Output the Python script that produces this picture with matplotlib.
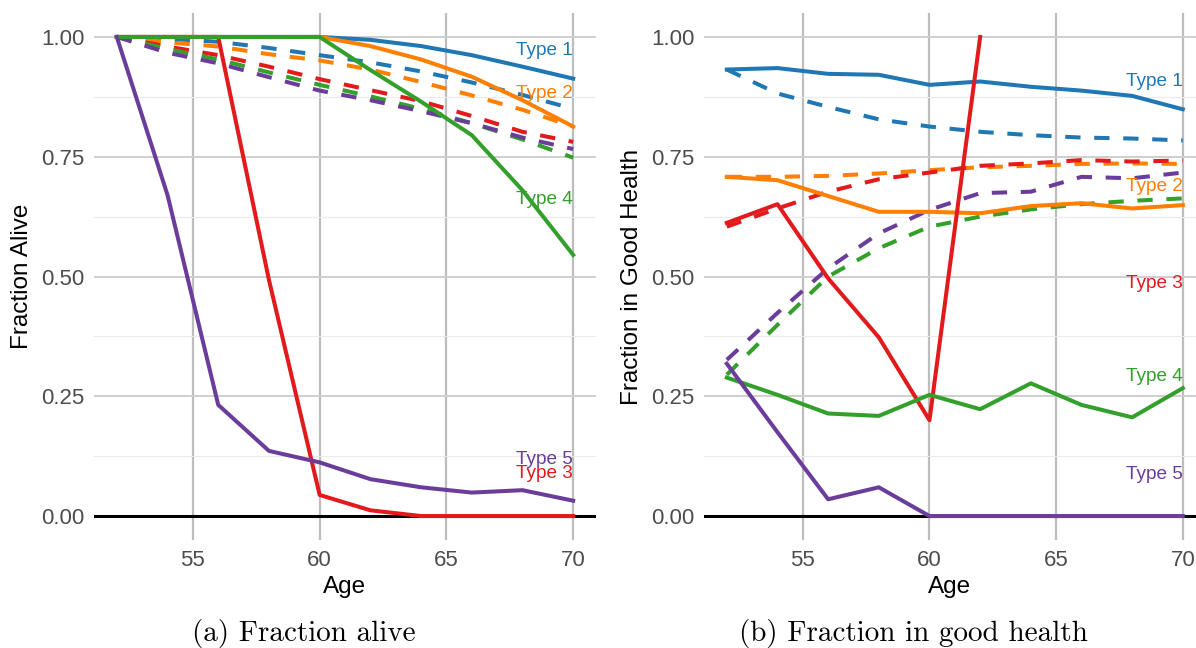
import numpy as np
import matplotlib
matplotlib.use("Agg")
import matplotlib.pyplot as plt
from matplotlib.ticker import MultipleLocator, FixedLocator

ages = [52, 54, 56, 58, 60, 62, 64, 66, 68, 70]
type_names = ["Type 1", "Type 2", "Type 3", "Type 4", "Type 5"]
colors = ["#1f78b4", "#ff7f00", "#e31a1c", "#33a02c", "#6a3d9a"]

# panel (a): fraction alive, solid lines
alive_t1 = [1.0, 1.0, 1.0, 1.0, 1.0, 0.994, 0.981, 0.962, 0.938, 0.913]
alive_t2 = [1.0, 1.0, 1.0, 1.0, 1.0, 0.981, 0.953, 0.917, 0.868, 0.813]
alive_t3 = [1.0, 1.0, 1.0, 0.493, 0.044, 0.012, 0.0, 0.0, 0.0, 0.0]
alive_t4 = [1.0, 1.0, 1.0, 1.0, 1.0, 0.931, 0.865, 0.795, 0.68, 0.545]
alive_t5 = [1.0, 0.67, 0.232, 0.136, 0.112, 0.077, 0.06, 0.049, 0.054, 0.032]
# panel (a): dashed lines
alive_t1_d = [1.0, 0.996, 0.99, 0.977, 0.962, 0.947, 0.928, 0.905, 0.879, 0.850]
alive_t2_d = [1.0, 0.989, 0.98, 0.964, 0.951, 0.932, 0.906, 0.878, 0.848, 0.813]
alive_t3_d = [1.0, 0.98, 0.962, 0.938, 0.912, 0.889, 0.866, 0.835, 0.802, 0.781]
alive_t4_d = [1.0, 0.975, 0.953, 0.926, 0.9, 0.876, 0.85, 0.82, 0.786, 0.748]
alive_t5_d = [1.0, 0.967, 0.945, 0.916, 0.888, 0.868, 0.845, 0.82, 0.79, 0.766]

# panel (b): fraction in good health, solid lines
health_t1 = [0.932, 0.935, 0.923, 0.921, 0.9, 0.907, 0.896, 0.888, 0.877, 0.849]
health_t2 = [0.708, 0.701, 0.668, 0.635, 0.635, 0.632, 0.647, 0.653, 0.642, 0.649]
health_t3 = [0.612, 0.651, 0.496, 0.373, 0.2, 1.0, np.nan, np.nan, np.nan, np.nan]
health_t4 = [0.289, 0.253, 0.214, 0.209, 0.253, 0.223, 0.277, 0.232, 0.206, 0.267]
health_t5 = [0.318, 0.175, 0.035, 0.06, 0.0, 0.0, 0.0, 0.0, 0.0, 0.0]
# panel (b): dashed lines
health_t1_d = [0.932, 0.882, 0.854, 0.828, 0.813, 0.802, 0.795, 0.79, 0.788, 0.784]
health_t2_d = [0.708, 0.708, 0.71, 0.715, 0.722, 0.728, 0.731, 0.735, 0.736, 0.735]
health_t3_d = [0.604, 0.642, 0.677, 0.703, 0.717, 0.731, 0.736, 0.743, 0.74, 0.742]
health_t4_d = [0.295, 0.399, 0.5, 0.559, 0.604, 0.625, 0.64, 0.651, 0.658, 0.663]
health_t5_d = [0.326, 0.424, 0.517, 0.59, 0.639, 0.674, 0.677, 0.708, 0.705, 0.717]

# where the type labels sit (y value, right-aligned at age 70)
alive_label_y = [0.971, 0.883, 0.088, 0.66, 0.117]
health_label_y = [0.906, 0.687, 0.486, 0.292, 0.086]

plt.rcParams["font.family"] = ["Liberation Sans", "DejaVu Sans"]

W, H = 1196, 648
fig = plt.figure(figsize=(W / 100, H / 100), dpi=100)
ax1 = fig.add_axes([94 / W, 1 - 540 / H, 502 / W, 527 / H])
ax2 = fig.add_axes([704 / W, 1 - 540 / H, 492 / W, 527 / H])

lw = 2.9
dash = (3.8, 3.4)


def draw_panel(ax, solid, dashed, label_y, ylabel, xmax):
    ax.set_xlim(51.1, xmax)
    ax.set_ylim(-0.05, 1.05)
    for s in ax.spines.values():
        s.set_visible(False)
    ax.xaxis.set_major_locator(FixedLocator([55, 60, 65, 70]))
    ax.yaxis.set_major_locator(MultipleLocator(0.25))
    ax.yaxis.set_minor_locator(MultipleLocator(0.125))
    ax.set_yticks([0, 0.25, 0.5, 0.75, 1.0])
    ax.set_yticklabels(["0.00", "0.25", "0.50", "0.75", "1.00"])
    ax.tick_params(length=0, labelsize=16, colors="#4d4d4d", pad=7)
    ax.tick_params(axis="both", which="minor", length=0)
    ax.grid(axis="x", which="major", color="#bdbdbd", lw=1.6, zorder=0)
    ax.grid(axis="y", which="major", color="#cfcfcf", lw=1.4, zorder=0)
    ax.grid(axis="y", which="minor", color="#ebebeb", lw=0.8, zorder=0)
    ax.set_axisbelow(True)
    ax.axhline(0, color="black", lw=2.2, zorder=1)

    for ys, c in zip(dashed, colors):
        ax.plot(ages, ys, color=c, lw=lw, dashes=dash, zorder=2)
    for ys, c in zip(solid, colors):
        ax.plot(ages, ys, color=c, lw=lw, zorder=3)
    for name, c, y in zip(type_names, colors, label_y):
        ax.text(70, y, name, color=c, fontsize=13.7, ha="right", va="center", zorder=4)

    ax.set_xlabel("Age", fontsize=17.5, labelpad=4)
    ax.set_ylabel(ylabel, fontsize=17.5, labelpad=6)


draw_panel(ax1,
           [alive_t1, alive_t2, alive_t3, alive_t4, alive_t5],
           [alive_t1_d, alive_t2_d, alive_t3_d, alive_t4_d, alive_t5_d],
           alive_label_y, "Fraction Alive", 70.9)
draw_panel(ax2,
           [health_t1, health_t2, health_t3, health_t4, health_t5],
           [health_t1_d, health_t2_d, health_t3_d, health_t4_d, health_t5_d],
           health_label_y, "Fraction in Good Health", 70.52)

fig.text(304 / W, 1 - 633 / H, "(a) Fraction alive", family="cmr10",
         fontsize=21, ha="center", va="center")
fig.text(913 / W, 1 - 633 / H, "(b) Fraction in good health", family="cmr10",
         fontsize=21, ha="center", va="center")

fig.savefig("out.png", dpi=100)
plt.close(fig)
